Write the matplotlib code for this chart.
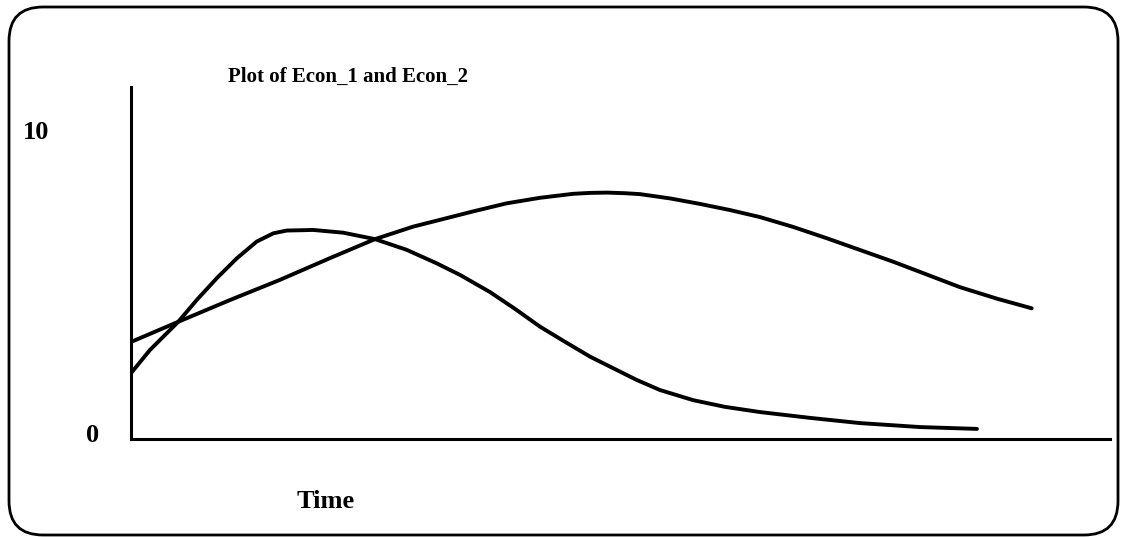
import numpy as np
import matplotlib
matplotlib.use('Agg')
import matplotlib.pyplot as plt
from matplotlib.patches import FancyBboxPatch

# 数据：两条经济指标随时间变化
time_1 = [0.0, 1.94, 4.80, 6.71, 8.75, 10.80, 12.84, 14.54, 15.90, 18.62, 21.68,
          24.92, 28.16, 31.22, 33.61, 36.67, 39.23, 41.78, 44.10, 46.89, 51.65, 54.03,
          57.41, 60.67, 64.25, 69.36, 74.46, 80.59, 86.41]
econ_1 = [2.15, 2.91, 3.82, 4.54, 5.25, 5.90, 6.45, 6.72, 6.81, 6.83, 6.74,
          6.53, 6.18, 5.74, 5.36, 4.80, 4.25, 3.67, 3.22, 2.69, 1.93, 1.60,
          1.27, 1.05, 0.88, 0.69, 0.52, 0.39, 0.33]

time_2 = [0.0, 4.83, 10.11, 15.22, 20.33, 24.92, 28.84, 31.56, 35.00, 38.38, 41.78, 45.15,
          46.88, 48.62, 50.46, 51.99, 55.06, 58.12, 61.18, 64.25, 67.62, 71.06,
          77.87, 84.68, 88.50, 92.00]
econ_2 = [3.17, 3.83, 4.54, 5.20, 5.91, 6.53, 6.94, 7.16, 7.44, 7.70, 7.88, 8.01,
          8.04, 8.05, 8.03, 8.00, 7.86, 7.68, 7.48, 7.25, 6.93, 6.56,
          5.79, 4.96, 4.58, 4.27]

y_labels = [10, 0]

W, H = 1121, 537
fig = plt.figure(figsize=(W / 100, H / 100), dpi=100)
font = {'family': 'Liberation Serif', 'weight': 'bold'}

# 背景层（像素坐标），画圆角外框
bg = fig.add_axes([0, 0, 1, 1])
bg.set_xlim(0, W)
bg.set_ylim(H, 0)
bg.axis('off')
frame = FancyBboxPatch((9, 7), 1109, 528, boxstyle='round,pad=0,rounding_size=34',
                       fc='none', ec='black', lw=2.0)
bg.add_patch(frame)

# 标题和横轴名称
bg.text(228, 82, 'Plot of Econ_1 and Econ_2', ha='left', va='baseline', fontsize=15, **font)
bg.text(297, 508, 'Time', ha='left', va='baseline', fontsize=19, **font)

# 主图
ax = fig.add_axes([131 / W, 98 / H, 979 / W, 352 / H])
ax.patch.set_alpha(0)
ax.plot(time_1, econ_1, color='black', lw=2.8, solid_capstyle='round', solid_joinstyle='round')
ax.plot(time_2, econ_2, color='black', lw=2.8, solid_capstyle='round', solid_joinstyle='round')
ax.set_xlim(0, 100)
ax.set_ylim(0, 11.5)
for s in ['top', 'right']:
    ax.spines[s].set_visible(False)
for s in ['left', 'bottom']:
    ax.spines[s].set_linewidth(2.2)
ax.set_xticks([])
ax.set_yticks([])

# 纵轴刻度文字（位置不在轴旁）
label_x = [-0.097, -0.039]
label_y = [10, 0.1]
for lx, ly, v in zip(label_x, label_y, y_labels):
    ax.text(lx, ly, str(v), transform=ax.get_yaxis_transform(), ha='center',
            va='center', fontsize=19, **font)

fig.savefig('out.png', dpi=100)
